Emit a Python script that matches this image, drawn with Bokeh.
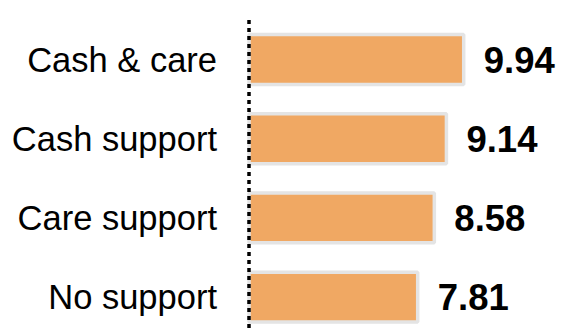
from bokeh.plotting import figure
from bokeh.models import Range1d, ColumnDataSource
from bokeh.core.properties import value
from bokeh.embed import file_html
from bokeh.resources import INLINE

categories = ["Cash & care", "Cash support", "Care support", "No support"]
scores = [9.94, 9.14, 8.58, 7.81]
score_labels = ["9.94", "9.14", "8.58", "7.81"]

W, H = 570, 330
px_per_unit = 21.6
zero_px = 248.5
x_start = -zero_px / px_per_unit
x_end = (W - zero_px) / px_per_unit
band = 79.2
first_center = 59
y_top = -first_center / band
y_bottom = (H - first_center) / band

pos = list(range(len(categories)))
src = ColumnDataSource(dict(cat=categories, y=pos, score=scores, lab=score_labels))

p = figure(width=W, height=H, x_range=Range1d(x_start, x_end),
           y_range=Range1d(y_bottom, y_top), output_backend="svg",
           toolbar_location=None, min_border=0)
p.axis.visible = False
p.grid.visible = False
p.outline_line_color = None
p.background_fill_color = "white"
p.border_fill_color = "white"

p.hbar(y="y", left=0, right="score", height=0.63, fill_color="#F0A863",
       line_color="#E4E4E4", line_width=3.5, source=src)
p.segment(x0=0, y0=-0.5, x1=0, y1=len(categories), line_dash="4 4",
          line_width=3.5, line_color="black")
p.text(x=0, y="y", text="cat", x_offset=-32, text_align="right",
       text_baseline="middle", text_font=value("Liberation Sans"),
       text_font_size="34.5px", text_color="black", source=src)
p.text(x="score", y="y", text="lab", x_offset=20, text_align="left",
       text_baseline="middle", text_font=value("Liberation Sans"),
       text_font_style="bold", text_font_size="36.5px", text_color="black",
       source=src)

open("out.html", "w").write(file_html(p, INLINE))
